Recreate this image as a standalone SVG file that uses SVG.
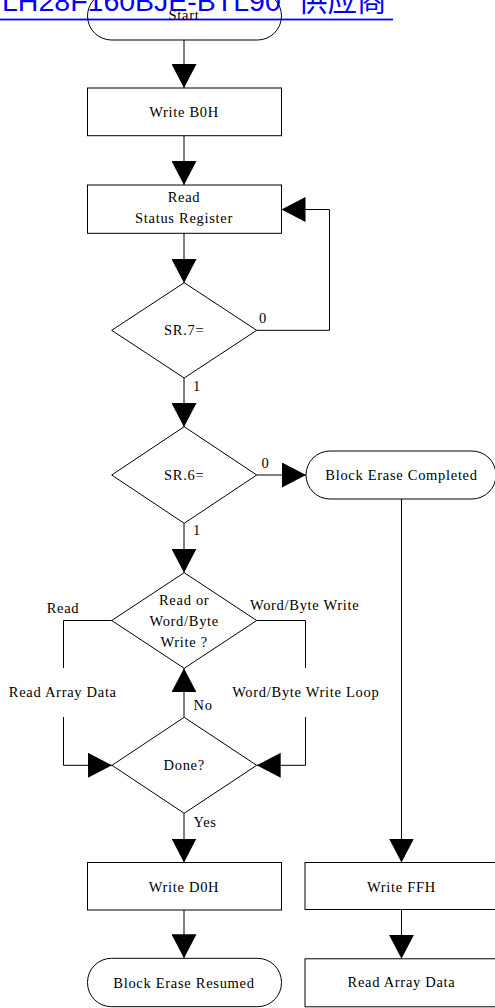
<svg xmlns="http://www.w3.org/2000/svg" width="495" height="1008" viewBox="0 0 495 1008">
<style>
.n{fill:#fff;stroke:#000;stroke-width:1}
.t{font-family:"Liberation Serif","Times New Roman",serif;font-size:14.5px;letter-spacing:0.7px;fill:#000;text-anchor:middle}
.l{font-family:"Liberation Serif","Times New Roman",serif;font-size:14.5px;letter-spacing:0.7px;fill:#000}
.c{fill:none;stroke:#000;stroke-width:1}
</style>
<defs>
<marker id="ah" markerUnits="userSpaceOnUse" markerWidth="25" markerHeight="25" refX="24" refY="12.5" orient="auto" viewBox="0 0 25 25">
<path d="M0,0 L24,12.5 L0,25 Z" fill="#000"/>
</marker>
</defs>
<g id="header">
<text x="2" y="11" font-family="'Liberation Sans',Arial,sans-serif" font-size="28.5" fill="#0000FF">LH28F160BJE-BTL90<tspan x="298" font-family="'Noto Sans CJK SC',sans-serif" font-size="29.5">供应商</tspan></text>
<rect x="0" y="18.6" width="393" height="1.8" fill="#0000FF"/>
</g>
<g id="connectors">
<path class="c" d="M184,40 V88" marker-end="url(#ah)"/>
<path class="c" d="M184,136 V185" marker-end="url(#ah)"/>
<path class="c" d="M184,233 V283" marker-end="url(#ah)"/>
<path class="c" d="M256.7,330.3 H329.5 V209.5 H281.5" marker-end="url(#ah)"/>
<path class="c" d="M184,378 V427" marker-end="url(#ah)"/>
<path class="c" d="M256.7,475 H306" marker-end="url(#ah)"/>
<path class="c" d="M184,523.3 V572.7" marker-end="url(#ah)"/>
<path class="c" d="M111.7,620.5 H63.5 V668"/>
<path class="c" d="M63.5,717 V765.3 H112" marker-end="url(#ah)"/>
<path class="c" d="M256.7,620.5 H305.5 V668"/>
<path class="c" d="M305.5,717 V765.3 H256.7" marker-end="url(#ah)"/>
<path class="c" d="M184,717.3 V668.3" marker-end="url(#ah)"/>
<path class="c" d="M184,813.3 V862.5" marker-end="url(#ah)"/>
<path class="c" d="M184,910 V958.3" marker-end="url(#ah)"/>
<path class="c" d="M401.5,499 V862.5" marker-end="url(#ah)"/>
<path class="c" d="M401.5,909.5 V958.8" marker-end="url(#ah)"/>
</g>
<g id="start">
<rect x="87.5" y="-8" width="194" height="48" rx="24" ry="24" fill="none" stroke="#000" stroke-width="1"/>
<text class="t" x="184" y="19.5">Start</text>
</g>
<g id="writeB0H">
<rect class="n" x="87.5" y="88" width="194" height="47.7"/>
<text class="t" x="184" y="116.7">Write B0H</text>
</g>
<g id="readSR">
<rect class="n" x="87.5" y="185" width="194" height="48.3"/>
<text class="t" x="184" y="201.7">Read</text>
<text class="t" x="184" y="223">Status Register</text>
</g>
<g id="sr7">
<polygon class="n" points="184.2,282.7 256.7,330.3 184.2,378 111.7,330.3"/>
<text class="t" x="184.2" y="335">SR.7=</text>
<text class="l" x="259" y="323">0</text>
<text class="l" x="193" y="390.7">1</text>
</g>
<g id="sr6">
<polygon class="n" points="184.2,426.7 256.7,475 184.2,523.3 111.7,475"/>
<text class="t" x="184.2" y="480">SR.6=</text>
<text class="l" x="261.5" y="468">0</text>
<text class="l" x="193" y="535">1</text>
</g>
<g id="blockEraseCompleted">
<rect class="n" x="306" y="451" width="190" height="48" rx="24" ry="24"/>
<text class="t" x="401.5" y="480">Block Erase Completed</text>
</g>
<g id="readOrWrite">
<polygon class="n" points="184.2,572.7 256.7,620.5 184.2,668.3 111.7,620.5"/>
<text class="t" x="184.2" y="605">Read or</text>
<text class="t" x="184.2" y="625.7">Word/Byte</text>
<text class="t" x="184.2" y="647.3">Write ?</text>
<text class="t" x="63" y="613.3">Read</text>
<text class="t" x="304.7" y="610">Word/Byte Write</text>
</g>
<g id="readArrayDataLoop">
<text class="t" x="62.8" y="696.7">Read Array Data</text>
</g>
<g id="writeLoop">
<text class="t" x="305.8" y="696.7">Word/Byte Write Loop</text>
</g>
<g id="done">
<polygon class="n" points="184.2,717.3 256.7,765.3 184.2,813.3 112,765.3"/>
<text class="t" x="184.2" y="770">Done?</text>
<text class="l" x="193.5" y="710">No</text>
<text class="l" x="193.5" y="826.7">Yes</text>
</g>
<g id="writeD0H">
<rect class="n" x="87.5" y="862.5" width="194" height="47.5"/>
<text class="t" x="184" y="891.7">Write D0H</text>
</g>
<g id="blockEraseResumed">
<rect class="n" x="87.5" y="958.3" width="194" height="48.4" rx="24" ry="24"/>
<text class="t" x="184" y="988.3">Block Erase Resumed</text>
</g>
<g id="writeFFH">
<rect class="n" x="305" y="862.5" width="194" height="47"/>
<text class="t" x="401.5" y="891.7">Write FFH</text>
</g>
<g id="readArrayData">
<rect class="n" x="305" y="958.8" width="194" height="48"/>
<text class="t" x="401.5" y="987">Read Array Data</text>
</g>
</svg>
